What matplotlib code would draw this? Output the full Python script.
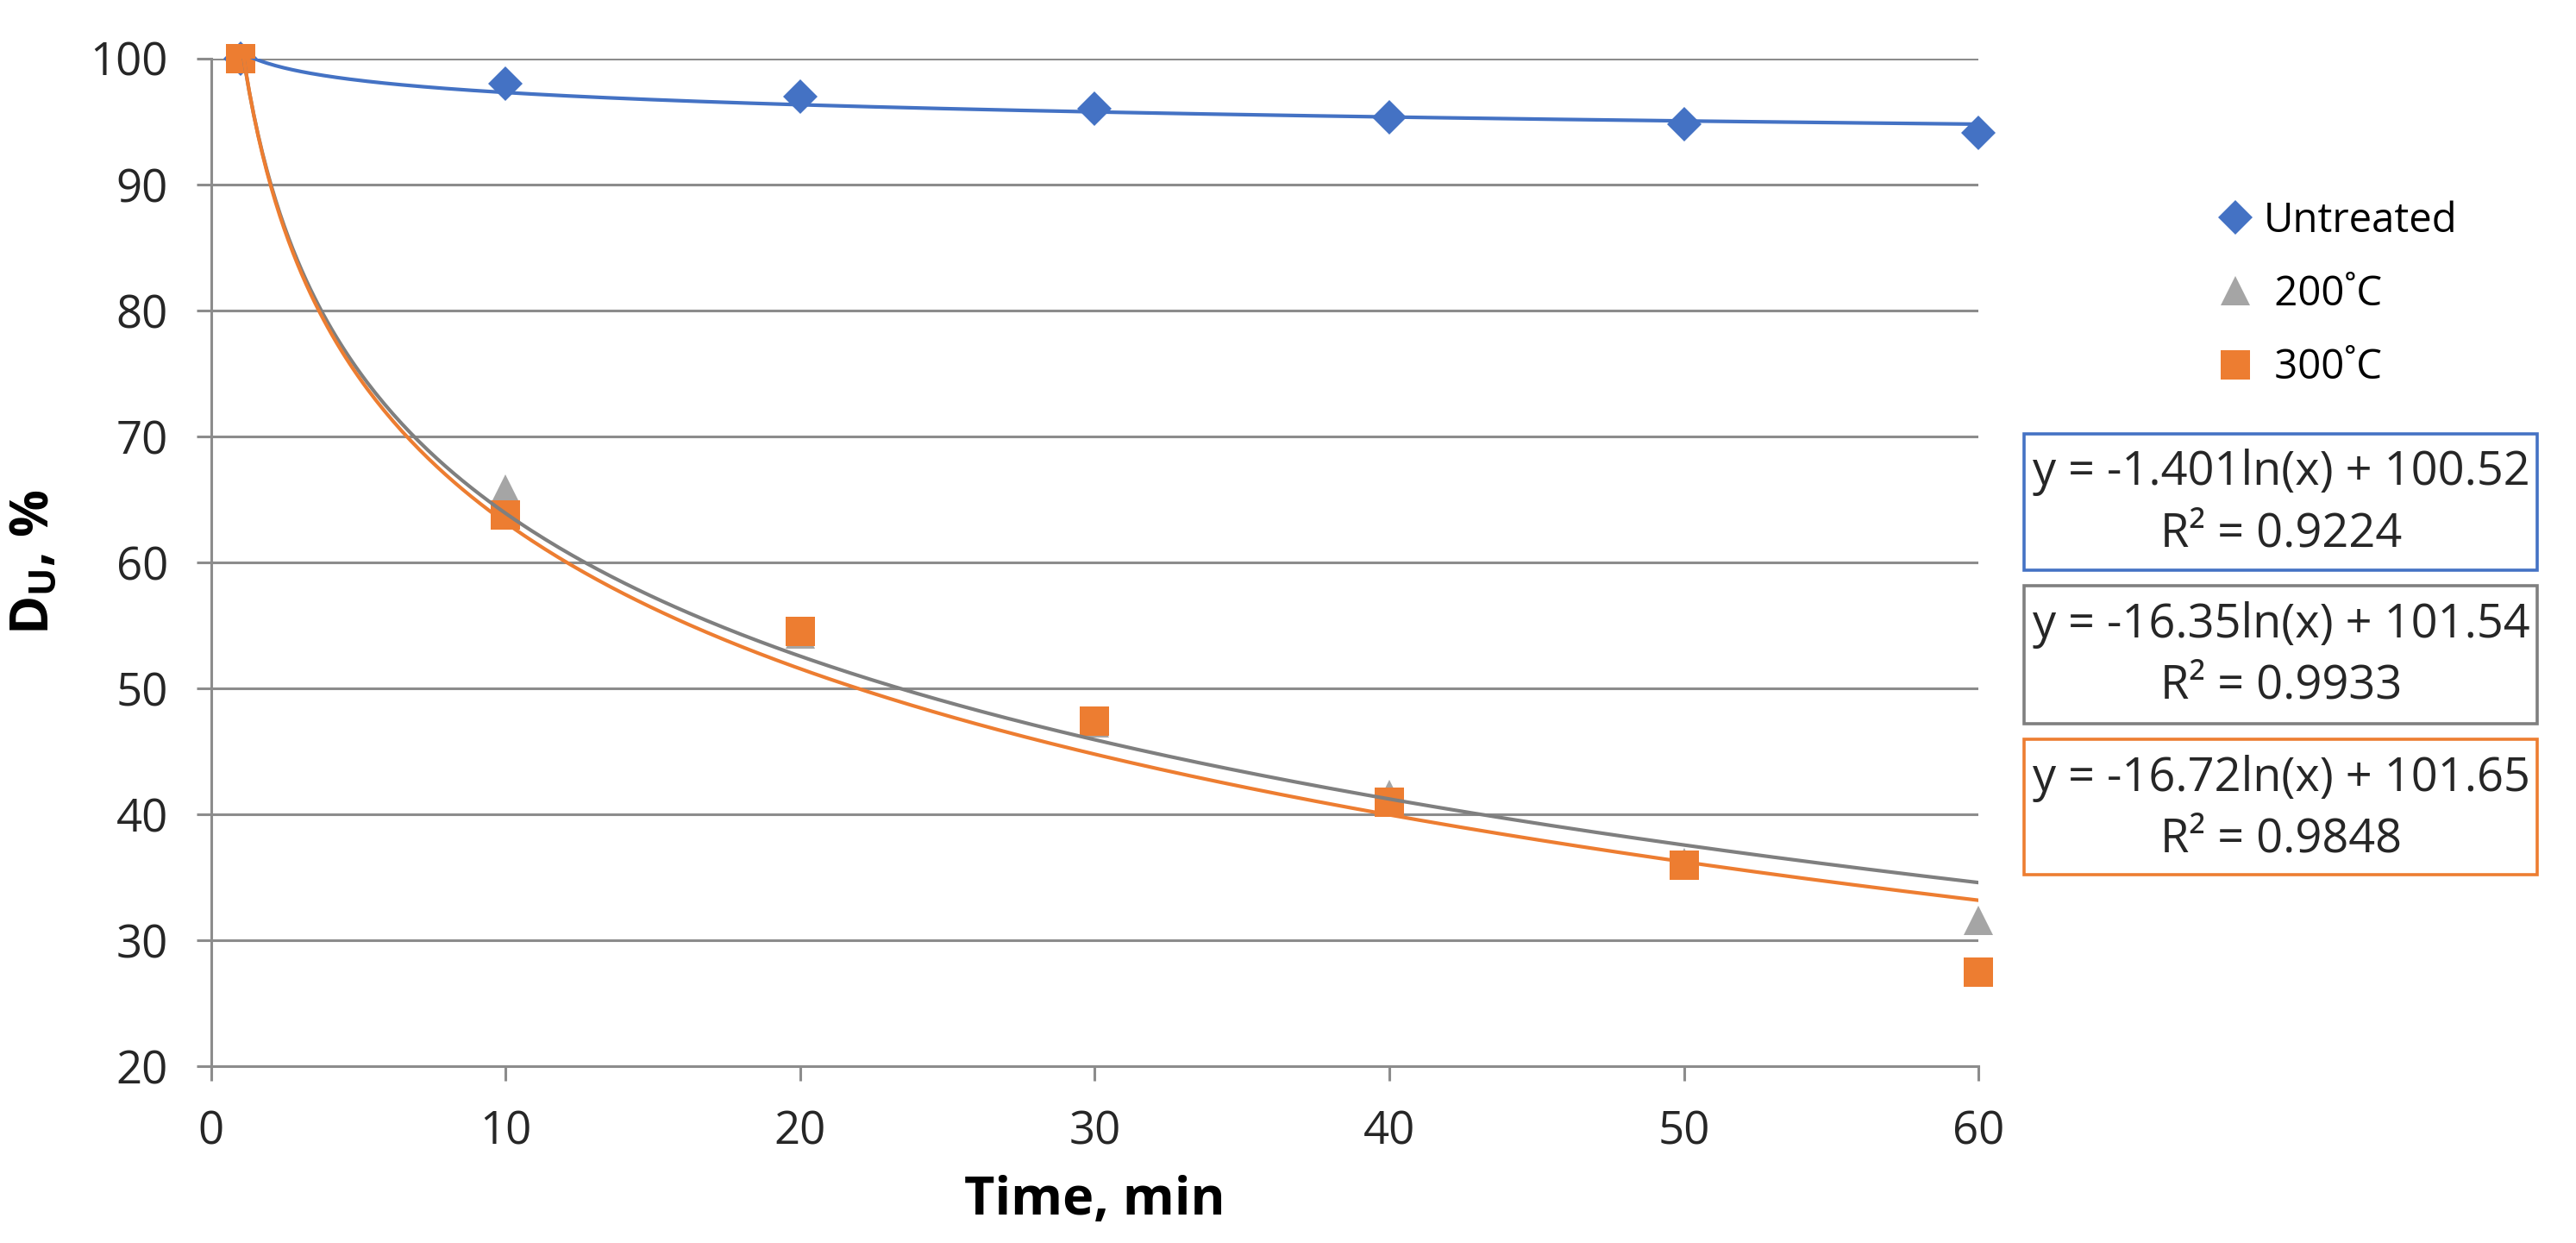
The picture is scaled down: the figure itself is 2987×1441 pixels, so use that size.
import numpy as np
import matplotlib.pyplot as plt
from matplotlib.patches import Rectangle

plt.rcParams['font.family'] = ['Open Sans', 'DejaVu Sans']

# measured points
time_min = [1, 10, 20, 30, 40, 50, 60]
untreated = [100, 98.0, 97.0, 96.0, 95.3, 94.8, 94.1]
treated_200 = [100, 65.8, 54.3, 47.3, 41.6, 36.2, 31.6]
treated_300 = [100, 63.8, 54.5, 47.4, 41.0, 36.0, 27.5]

# log trendlines y = a ln(x) + b, as printed on the chart
trend_a = [-1.401, -16.35, -16.72]
trend_b = [100.52, 101.54, 101.65]
trend_r2 = ["0.9224", "0.9933", "0.9848"]

labels = ["Untreated", " 200˚C", " 300˚C"]
marker_colors = ["#4472C4", "#A5A5A5", "#ED7D31"]
line_colors = ["#4472C4", "#7F7F7F", "#ED7D31"]
markers = ["D", "^", "s"]
msizes = [10, 12.5, 12.5]
grid_col = "#8C8C8C"

fig = plt.figure(figsize=(14.935, 7.205), dpi=200)
ax = fig.add_axes([0.082, 0.142, 0.686, 0.811])

series = [untreated, treated_200, treated_300]
for vals, lab, mc, mk, ms in zip(series, labels, marker_colors, markers, msizes):
    ax.plot(time_min, vals, linestyle="none", marker=mk, markersize=ms,
            color=mc, markeredgewidth=0, label=lab, zorder=3, clip_on=False)

xx = np.linspace(1, 60, 400)
for a, b, lc in zip(trend_a, trend_b, line_colors):
    ax.plot(xx, a * np.log(xx) + b, color=lc, linewidth=1.5, zorder=4)

ax.set_xlim(0, 60)
ax.set_ylim(20, 100)
ax.set_xticks(range(0, 61, 10))
ax.set_yticks(range(20, 101, 10))
ax.grid(axis="y", color=grid_col, linewidth=1.1)
ax.set_axisbelow(True)
for s in ["top", "right", "bottom"]:
    ax.spines[s].set_visible(False)
ax.spines["left"].set_color(grid_col)
ax.spines["left"].set_linewidth(1.1)
ax.axhline(20, color=grid_col, linewidth=1.1, zorder=1, clip_on=False)
ax.tick_params(axis="both", colors=grid_col, labelcolor="#262626",
               labelsize=19, length=6, width=1.1, pad=12)

ax.set_xlabel("Time, min", fontsize=22, fontweight="bold", labelpad=8)
ax.set_ylabel(r"D$_{\mathregular{U}}$, %", fontsize=22, fontweight="bold", labelpad=12)

ax.legend(loc="upper left", bbox_to_anchor=(0.852, 0.852), bbox_transform=fig.transFigure,
          frameon=False, fontsize=17, handletextpad=0.1, labelspacing=0.8,
          handlelength=1.2, borderaxespad=0)

# trendline equation boxes (figure pixel coords from top)
W, H = 2987.0, 1441.0
boxes = [(503, 661), (679, 839), (857, 1014)]
for (top, bot), a, b, r2, lc in zip(boxes, trend_a, trend_b, trend_r2, line_colors):
    fig.patches.append(Rectangle((2347 / W, 1 - bot / H), 595 / W, (bot - top) / H,
                                 transform=fig.transFigure, fill=False,
                                 edgecolor=lc, linewidth=1.3))
    cx = 2645 / W
    fig.text(cx, 1 - (top + 45) / H, "y = %sln(x) + %.2f" % (("%g" % a), b),
             ha="center", va="center", fontsize=19.5, color="#262626")
    fig.text(cx, 1 - (top + 116) / H, "R² = " + r2,
             ha="center", va="center", fontsize=19.5, color="#262626")

fig.savefig("out.png", dpi=200)
